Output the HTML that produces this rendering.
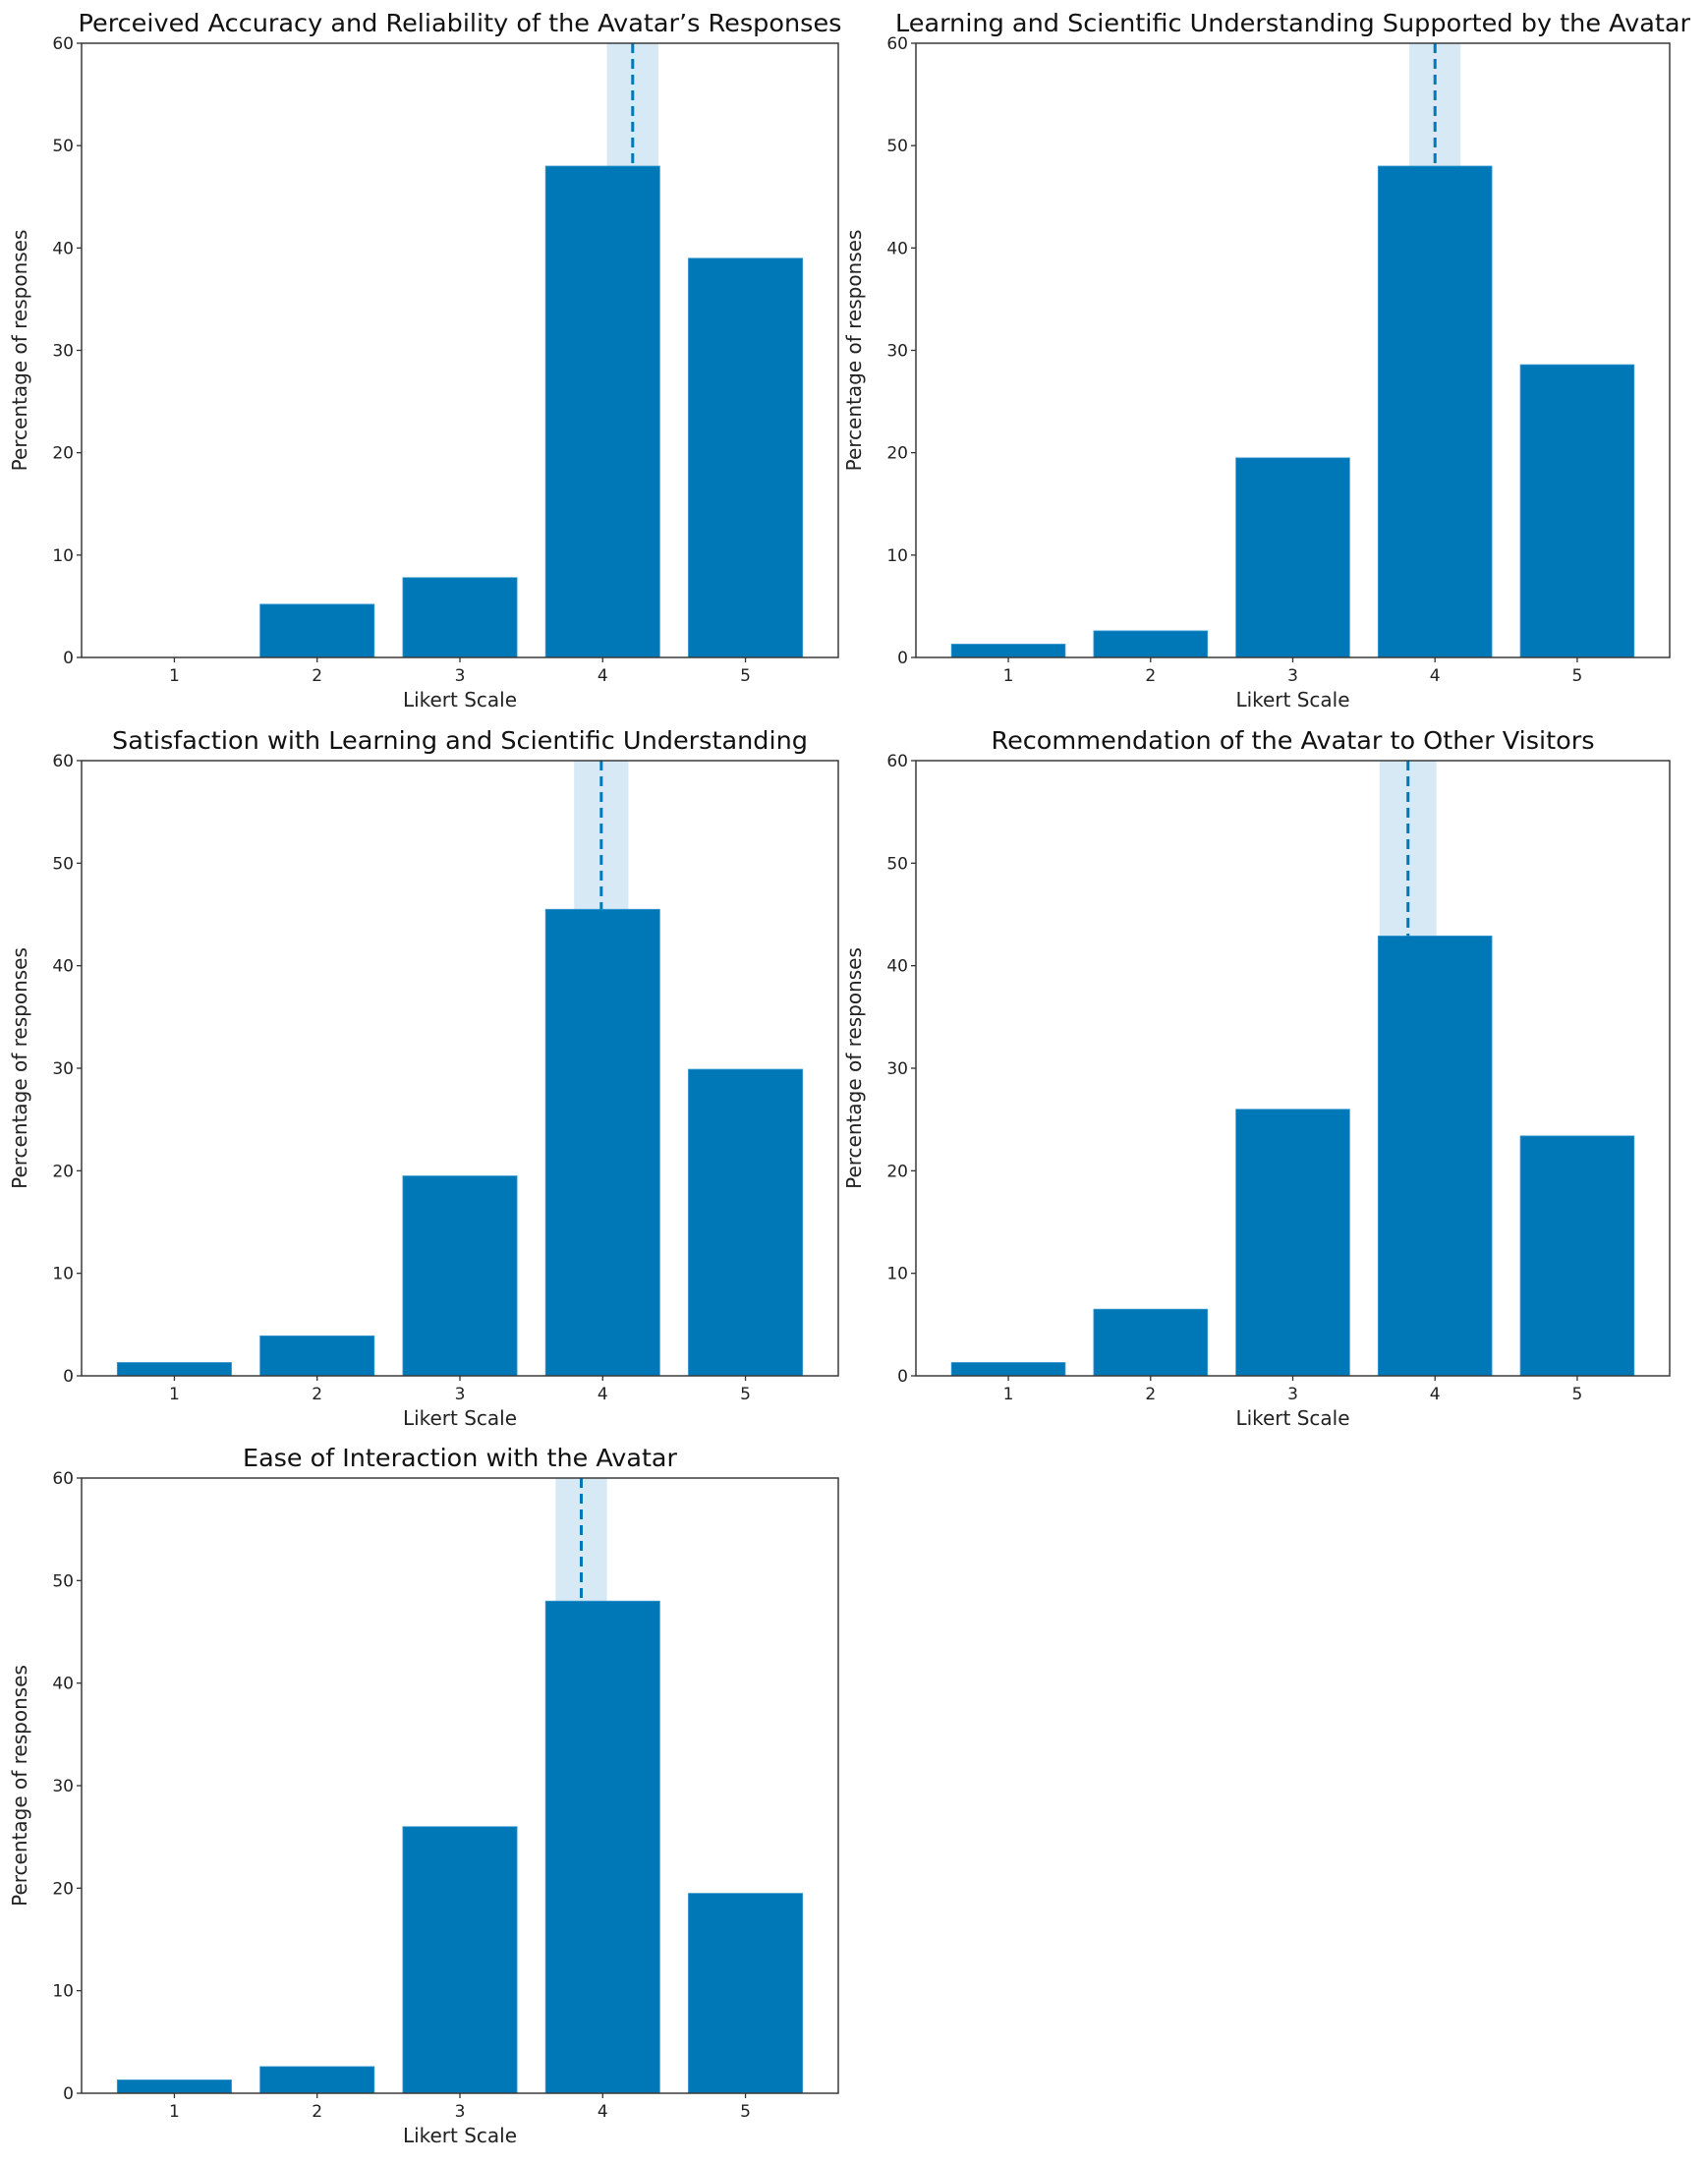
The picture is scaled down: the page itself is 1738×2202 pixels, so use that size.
<!DOCTYPE html>
<html><head><meta charset="utf-8"><style>
html,body{margin:0;padding:0;background:#fff;}
svg{display:block;font-family:"DejaVu Sans","Liberation Sans",sans-serif;}
</style></head><body>
<svg id="fig" width="1738" height="2202" viewBox="0 0 1738 2202" xmlns="http://www.w3.org/2000/svg"></svg>
<script>
const categories = [1, 2, 3, 4, 5];
const yTicks = [0, 10, 20, 30, 40, 50, 60];
const titles = [
  "Perceived Accuracy and Reliability of the Avatar\u2019s Responses",
  "Learning and Scientific Understanding Supported by the Avatar",
  "Satisfaction with Learning and Scientific Understanding",
  "Recommendation of the Avatar to Other Visitors",
  "Ease of Interaction with the Avatar"
];
const valuesAccuracy = [0, 5.2, 7.8, 48, 39];
const valuesLearning = [1.3, 2.6, 19.5, 48, 28.6];
const valuesSatisfaction = [1.3, 3.9, 19.5, 45.5, 29.9];
const valuesRecommendation = [1.3, 6.5, 26, 42.9, 23.4];
const valuesEase = [1.3, 2.6, 26, 48, 19.5];
const means = [4.21, 4.0, 3.99, 3.81, 3.85];
const ciHalf = [0.18, 0.18, 0.19, 0.2, 0.18];
const seriesList = [valuesAccuracy, valuesLearning, valuesSatisfaction, valuesRecommendation, valuesEase];

const NS = "http://www.w3.org/2000/svg";
const fig = document.getElementById('fig');
function mk(tag, attrs, parent){ const e=document.createElementNS(NS,tag); for(const k in attrs) e.setAttribute(k,attrs[k]); parent.appendChild(e); return e; }

const panels = [
  {x0:83, x1:853, y0:44, y1:669, tw:777},
  {x0:932, x1:1699, y0:44, y1:669, tw:809},
  {x0:83, x1:853, y0:774, y1:1400, tw:708},
  {x0:932, x1:1699, y0:774, y1:1400, tw:614},
  {x0:83, x1:853, y0:1504, y1:2130, tw:442}
];
const XMIN = 0.35, XMAX = 5.65, YMAX = 60;

panels.forEach((p, i) => {
  const g = mk('g', {}, fig);
  
  
  const xs = v => p.x0 + (v - XMIN) / (XMAX - XMIN) * (p.x1 - p.x0);
  const ys = v => p.y1 - v / YMAX * (p.y1 - p.y0);
  const cx = (p.x0 + p.x1) / 2;

  const band = mk('rect', {x: xs(means[i]-ciHalf[i]), y: p.y0, width: xs(means[i]+ciHalf[i]) - xs(means[i]-ciHalf[i]), height: p.y1-p.y0, fill: '#d6e9f4'}, g);
  
  

  const vals = seriesList[i];
  categories.forEach((c, j) => {
    const v = vals[j];
    const b = mk('rect', {x: xs(c-0.4), y: ys(v), width: xs(c+0.4)-xs(c-0.4), height: ys(0)-ys(v), fill: '#0077b6', stroke: '#3d9bd0', 'stroke-width': 0.8}, g);
    
    
  });

  const topBar4 = ys(Math.max(...vals.filter((v,k)=>Math.abs(categories[k]-means[i])<0.5)));
  const ml = mk('line', {x1: xs(means[i]), x2: xs(means[i]), y1: p.y0, y2: topBar4, stroke: '#0077b6', 'stroke-width': 3, 'stroke-dasharray': '10 6'}, g);
  
  

  const fr = mk('rect', {x: p.x0, y: p.y0, width: p.x1-p.x0, height: p.y1-p.y0, fill: 'none', stroke: '#3a3a3a', 'stroke-width': 1.5}, g);
  
  

  yTicks.forEach(t => {
    mk('line', {x1: p.x0-5, x2: p.x0, y1: ys(t), y2: ys(t), stroke: '#333', 'stroke-width': 1.3}, g);
    const tl = mk('text', {x: p.x0-8, y: ys(t)+6, 'text-anchor': 'end', 'font-size': 17, fill: '#222'}, g);
    tl.textContent = t;
    
    
  });
  categories.forEach(c => {
    mk('line', {x1: xs(c), x2: xs(c), y1: p.y1, y2: p.y1+5, stroke: '#333', 'stroke-width': 1.3}, g);
    const tl = mk('text', {x: xs(c), y: p.y1+24, 'text-anchor': 'middle', 'font-size': 17, fill: '#222'}, g);
    tl.textContent = c;
    
    
  });
  const xt = mk('text', {x: cx, y: p.y1+50, 'text-anchor': 'middle', 'font-size': 20, fill: '#222'}, g);
  xt.textContent = 'Likert Scale';
  
  
  const yc = (p.y0+p.y1)/2, yx = p.x0 - 56;
  const yt = mk('text', {x: yx, y: yc, 'text-anchor': 'middle', 'font-size': 20, fill: '#222', transform: 'rotate(-90 '+yx+' '+yc+')'}, g);
  yt.textContent = 'Percentage of responses';
  
  
  const tt = mk('text', {x: cx, y: p.y0-12, 'text-anchor': 'middle', 'font-size': 25, fill: '#111', textLength: p.tw, lengthAdjust: 'spacingAndGlyphs'}, g);
  tt.textContent = titles[i];
  
  
});
</script>
</body></html>
